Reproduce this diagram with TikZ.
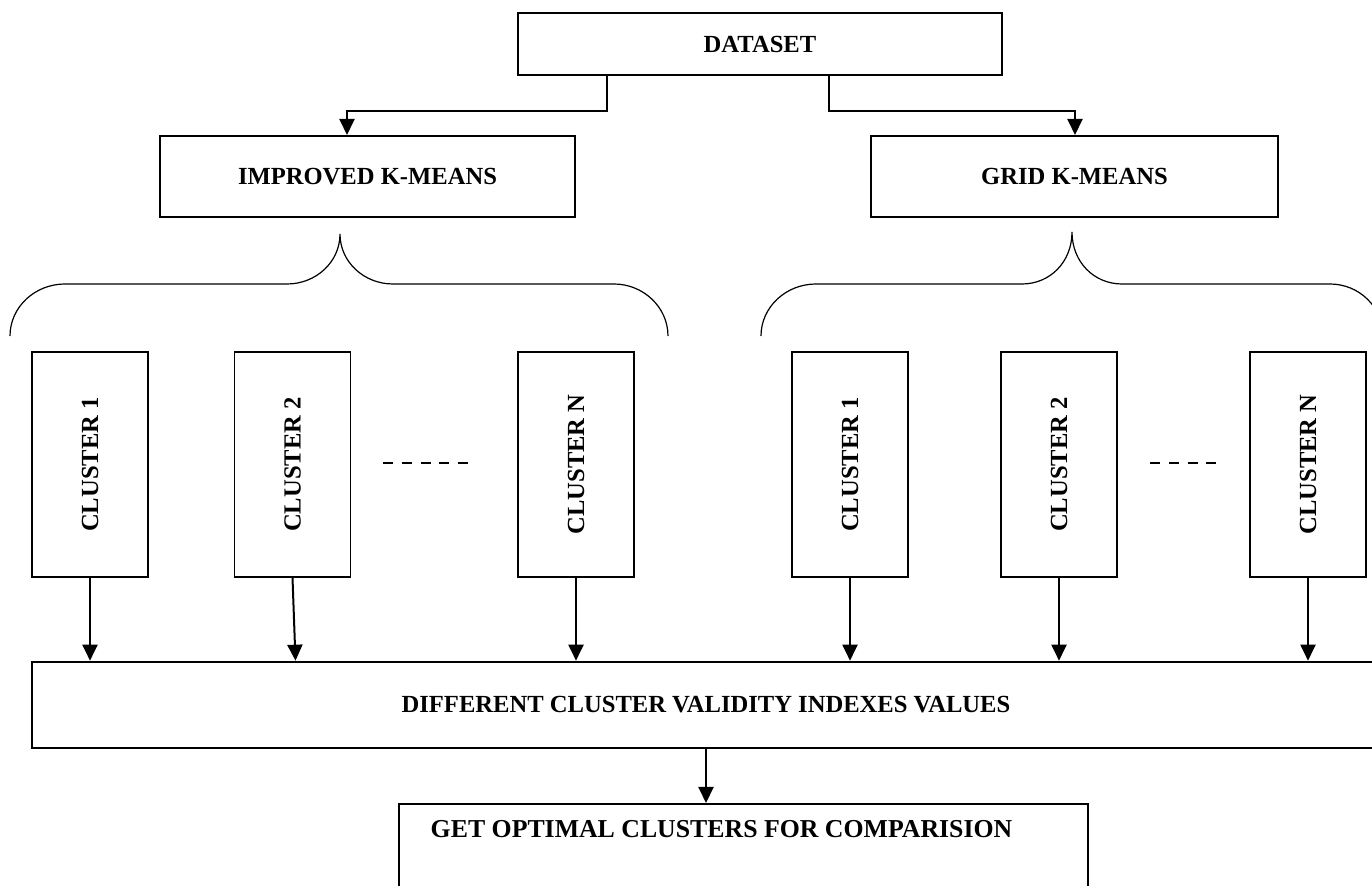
\documentclass[tikz,border=0pt]{standalone}
\usepackage{fontspec}
\setmainfont{Liberation Serif}
\usetikzlibrary{arrows.meta}

\begin{document}
\begin{tikzpicture}
[x=0.5pt,y=-0.5pt,
every node/.style={shape=rectangle,draw,align=center,inner sep=0pt,line width=1pt,
	font=\fontsize{12.3}{14}\selectfont\bfseries},
methodbox/.style={minimum height=40.5pt},
clusterbox/.style={minimum width=58pt,minimum height=112.5pt,line width=0.6pt},
arr/.style={line width=1pt,-{Triangle[length=8pt,width=7.5pt]}},
brace/.style={line width=0.6pt},
gap/.style={line width=1pt,dash pattern=on 5pt off 4.4pt}]

\useasboundingbox (0,0) rectangle (1372,886);
\clip (0,0) rectangle (1372,886);

\node[minimum width=242pt,minimum height=31pt] (dataset) at (760,44) {DATASET};
\node[methodbox,minimum width=207.5pt] (improved) at (367.5,176.5) {IMPROVED K-MEANS};
\node[methodbox,minimum width=203.5pt] (grid) at (1074.5,176.5) {GRID K-MEANS};

\coordinate (dsl) at (607,75);
\coordinate (dsr) at (829,75);
\coordinate (jl) at (347,111);
\coordinate (jr) at (1075,111);
\draw[arr] (dsl) |- (jl) -- (jl |- improved.north);
\draw[arr] (dsr) |- (jr) -- (jr |- grid.north);

\draw[brace] (10,336) .. controls (10,307) and (35,284) .. (65,284) -- (287,284)
	.. controls (316,284) and (340,262) .. (340,234)
	.. controls (340,262) and (364,284) .. (393,284) -- (614,284)
	.. controls (643,284) and (668,307) .. (668,336);
\draw[brace] (761,336) .. controls (761,307) and (786,284) .. (816,284) -- (1022,284)
	.. controls (1050,284) and (1072,262) .. (1072,232)
	.. controls (1072,262) and (1094,284) .. (1122,284) -- (1330,284)
	.. controls (1359,284) and (1383,307) .. (1383,336);

\node[clusterbox] (ic1) at (90,464.5) {\rotatebox{90}{CLUSTER 1}};
\node[clusterbox] (ic2) at (292.5,464.5) {\rotatebox{90}{CLUSTER 2}};
\node[clusterbox] (icn) at (576,464.5) {\rotatebox{90}{CLUSTER N}};
\node[clusterbox] (gc1) at (850,464.5) {\rotatebox{90}{CLUSTER 1}};
\node[clusterbox] (gc2) at (1059,464.5) {\rotatebox{90}{CLUSTER 2}};
\node[clusterbox] (gcn) at (1308,464.5) {\rotatebox{90}{CLUSTER N}};

\draw[gap] (383,463) -- (468,463);
\draw[gap] (1150,463) -- (1217,463);

\node[minimum width=674pt,minimum height=43pt,line width=1.3pt] (validity) at (706,705)
	{DIFFERENT CLUSTER VALIDITY INDEXES VALUES};
\node[minimum width=344.5pt,minimum height=65pt,
	label={[draw=none,anchor=north,yshift=-8pt,xshift=-11pt,font=\fontsize{12.9}{15}\selectfont\bfseries]north:GET OPTIMAL CLUSTERS FOR COMPARISION}]
	(optimal) at (743.5,869) {};

\draw[arr] (ic1.south) -- (ic1.south |- validity.north);
\draw[arr] (ic2.south) -- ([xshift=1.5pt]ic2.south |- validity.north);
\draw[arr] (icn.south) -- (icn.south |- validity.north);
\draw[arr] (gc1.south) -- (gc1.south |- validity.north);
\draw[arr] (gc2.south) -- (gc2.south |- validity.north);
\draw[arr] (gcn.south) -- (gcn.south |- validity.north);
\draw[arr] (validity.south) -- (validity.south |- optimal.north);
\end{tikzpicture}
\end{document}
